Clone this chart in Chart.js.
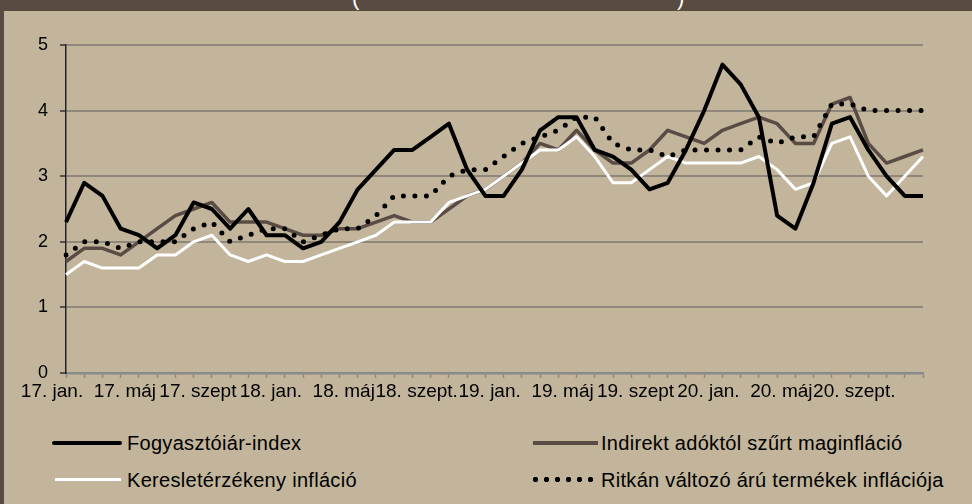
<!DOCTYPE html>
<html><head><meta charset="utf-8">
<script src="https://cdn.jsdelivr.net/npm/chart.js@4.4.1/dist/chart.umd.min.js"></script>
<style>
html,body{margin:0;padding:0;}
body{width:972px;height:504px;background:#c2b59b;position:relative;overflow:hidden;font-family:"Liberation Sans",Arial,sans-serif;}
#hdr{position:absolute;left:0;top:0;width:972px;height:11px;background:#594b41;overflow:hidden;}
#hdr span{position:absolute;top:-14px;color:#fff;font-size:22px;line-height:24px;}
#lstrip{position:absolute;left:0;top:0;width:4px;height:504px;background:#594b41;}
#wrap{position:absolute;left:0;top:0;width:972px;height:420px;}
.leg{position:absolute;font-size:20px;color:#000;line-height:22px;white-space:nowrap;letter-spacing:0.3px;}
.sw{position:absolute;}
</style></head>
<body>
<div id="hdr"><span style="left:352px">(</span><span style="left:677px">)</span></div>
<div id="lstrip"></div>
<div id="wrap"><canvas id="c" width="972" height="420"></canvas></div>

<div class="sw" style="left:52px;top:441px;width:70px;height:4px;background:#000;border-radius:2px;"></div>
<div class="leg" style="left:127px;top:432px;">Fogyasztóiár-index</div>
<div class="sw" style="left:533px;top:441px;width:65px;height:4px;background:#5a4c45;"></div>
<div class="leg" style="left:601px;top:432px;">Indirekt adóktól szűrt maginfláció</div>
<div class="sw" style="left:55px;top:478px;width:66px;height:3px;background:#fff;"></div>
<div class="leg" style="left:127px;top:469px;">Keresletérzékeny infláció</div>
<div class="sw" style="left:530px;top:476px;width:66px;height:7px;background:radial-gradient(circle,#000 2.4px,transparent 3px) 0 0/11px 7px repeat-x;"></div>
<div class="leg" style="left:601px;top:469px;">Ritkán változó árú termékek inflációja</div>

<script>
// categories
const years = ['17','18','19','20'];
const monthNames = ['jan.','febr.','márc.','ápr.','máj','jún.','júl.','aug.','szept','okt.','nov.','dec.'];
// tick labels shown on the axis (every 4th month)
const tickLabels = ['17. jan.','17. máj','17. szept','18. jan.','18. máj','18. szept.','19. jan.','19. máj','19. szept','20. jan.','20. máj','20. szept.'];

// series (%)
const fogyasztoiar = [2.3,2.9,2.7,2.2,2.1,1.9,2.1,2.6,2.5,2.2,2.5,2.1,
                      2.1,1.9,2.0,2.3,2.8,3.1,3.4,3.4,3.6,3.8,3.1,2.7,
                      2.7,3.1,3.7,3.9,3.9,3.4,3.3,3.1,2.8,2.9,3.4,4.0,
                      4.7,4.4,3.9,2.4,2.2,2.9,3.8,3.9,3.4,3.0,2.7,2.7];
const maginflacio = [1.7,1.9,1.9,1.8,2.0,2.2,2.4,2.5,2.6,2.3,2.3,2.3,
                     2.2,2.1,2.1,2.2,2.2,2.3,2.4,2.3,2.3,2.5,2.7,2.8,
                     3.0,3.2,3.5,3.4,3.7,3.4,3.2,3.2,3.4,3.7,3.6,3.5,
                     3.7,3.8,3.9,3.8,3.5,3.5,4.1,4.2,3.5,3.2,3.3,3.4];
const keresletErz = [1.5,1.7,1.6,1.6,1.6,1.8,1.8,2.0,2.1,1.8,1.7,1.8,
                     1.7,1.7,1.8,1.9,2.0,2.1,2.3,2.3,2.3,2.6,2.7,2.8,
                     3.0,3.2,3.4,3.4,3.6,3.3,2.9,2.9,3.1,3.3,3.2,3.2,
                     3.2,3.2,3.3,3.1,2.8,2.9,3.5,3.6,3.0,2.7,3.0,3.3];
const ritkanValtozo = [1.8,2.0,2.0,1.9,2.0,2.0,2.0,2.2,2.3,2.0,2.1,2.2,
                       2.2,2.0,2.1,2.2,2.2,2.4,2.7,2.7,2.7,3.0,3.1,3.1,
                       3.3,3.5,3.6,3.7,3.9,3.9,3.5,3.4,3.4,3.3,3.4,3.4,
                       3.4,3.4,3.6,3.5,3.6,3.6,4.1,4.1,4.0,4.0,4.0,4.0];

const months = [];
years.forEach(y => monthNames.forEach(m => months.push(y + '. ' + m)));

const FONT = 'Liberation Sans, Arial, sans-serif';

new Chart(document.getElementById('c'), {
  type: 'line',
  data: {
    labels: months,
    datasets: [
      {label:'Ritkán változó árú termékek inflációja', data: ritkanValtozo, borderColor:'#000', borderWidth:5,
       borderDash:[0,11.5], borderCapStyle:'round', order:0},
      {label:'Fogyasztóiár-index', data: fogyasztoiar, borderColor:'#000', borderWidth:4, order:1},
      {label:'Keresletérzékeny infláció', data: keresletErz, borderColor:'#fff', borderWidth:3, order:2},
      {label:'Indirekt adóktól szűrt maginfláció', data: maginflacio, borderColor:'#5a4c45', borderWidth:3.5, order:3}
    ]
  },
  options: {
    responsive: false,
    animation: false,
    layout: {padding: {left: 0, right: 49, top: 45, bottom: 17}},
    plugins: {legend: {display: false}, tooltip: {enabled: false}},
    elements: {point: {radius: 0}, line: {tension: 0, borderJoinStyle: 'round'}},
    scales: {
      x: {
        type: 'category',
        offset: false,
        grid: {drawOnChartArea: false, drawTicks: true, tickLength: 5, tickColor: '#8a8a8a', tickWidth: 1.5},
        border: {color: '#8a8a8a', width: 2.5},
        ticks: {
          autoSkip: false, maxRotation: 0, minRotation: 0, padding: 2, labelOffset: -14,
          color: '#000', font: {family: FONT, size: 19},
          callback: (v, i) => (i % 4 === 0 ? tickLabels[i / 4] : '')
        },
        afterFit: s => { s.height = 30; }
      },
      y: {
        min: 0, max: 5,
        ticks: {stepSize: 1, padding: 12, color: '#000', font: {family: FONT, size: 18}},
        grid: {color: '#8f877a', lineWidth: 2, drawTicks: true, tickLength: 6, tickColor: '#333', tickWidth: 1.5},
        border: {color: '#222', width: 1.5},
        afterFit: s => { s.width = 66; }
      }
    }
  }
});
</script>
</body></html>
